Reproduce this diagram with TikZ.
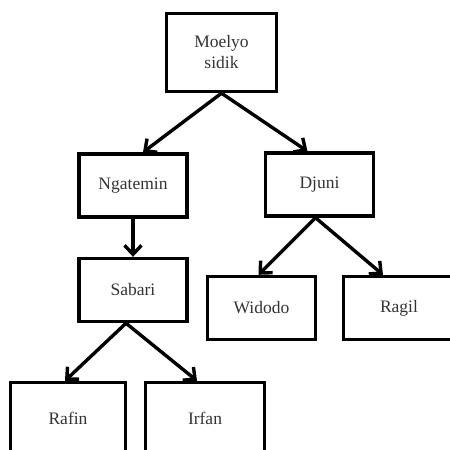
\documentclass[tikz,border=0pt]{standalone}
\usepackage{fontspec}
\setmainfont{Liberation Serif}
\usepackage{tikz}
\usetikzlibrary{arrows.meta}

\begin{document}
\begin{tikzpicture}[x=1pt,y=-1pt,-{Straight Barb[length=9pt,width=17pt]},line width=3.4pt,
  person node/.style={draw,inner sep=0pt,align=center,text=black!80,
    font=\fontsize{17.5}{21}\selectfont,minimum width=108pt,minimum height=63pt}]

  \useasboundingbox (0,0) rectangle (450,450);

  \node[person node,minimum width=110pt,minimum height=78pt] (1) at (221.5,52.5) {Moelyo\\sidik};
  \node[person node] (2) at (133,185.5) {Ngatemin};
  \node[person node] (3) at (319.5,184.5) {Djuni};
  \node[person node] (4) at (133,290) {Sabari};
  \node[person node] (5) at (261.5,308) {Widodo};
  \node[person node,minimum width=111pt] (6) at (399,308) {Ragil};
  \node[person node,minimum width=115pt,minimum height=72pt] (7) at (68,418.5) {Rafin};
  \node[person node,minimum width=119pt,minimum height=72pt] (8) at (205,418.5) {Irfan};

  \path
    (1.south) edge ([xshift=10pt]2.north)
    (1.south) edge ([xshift=-12pt]3.north)
    (2.south) edge (4.north)
    ([xshift=-4pt]3.south) edge ([xshift=-3pt]5.north)
    ([xshift=-4pt]3.south) edge ([xshift=-16pt]6.north)
    ([xshift=-7pt]4.south) edge ([xshift=-3pt]7.north)
    ([xshift=-7pt]4.south) edge ([xshift=-8pt]8.north);
\end{tikzpicture}
\end{document}
